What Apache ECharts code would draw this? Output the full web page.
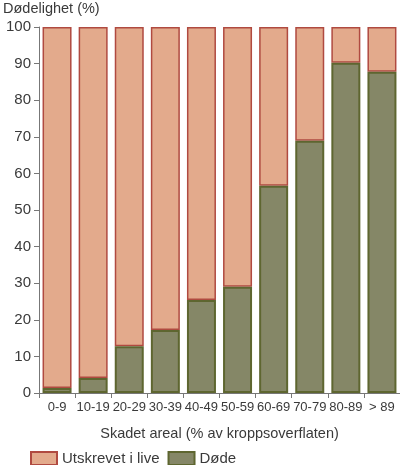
<!DOCTYPE html>
<html>
<head>
<meta charset="utf-8">
<script src="https://cdn.jsdelivr.net/npm/echarts@6/dist/echarts.min.js"></script>
<style>
  html, body { margin: 0; padding: 0; background: #fff; }
  #c1 { width: 400px; height: 465px; }
</style>
</head>
<body>
<div id="c1"></div>
<script>
// kategorier (skadet areal)
var categories = ["0-9", "10-19", "20-29", "30-39", "40-49", "50-59", "60-69", "70-79", "80-89", "> 89"];
// døde (%)
var dode = [1.4, 4.1, 12.8, 17.2, 25.4, 29.0, 56.6, 68.9, 90.2, 87.8];
// utskrevet i live (%)
var live = [98.6, 95.9, 87.2, 82.8, 74.6, 71.0, 43.4, 31.1, 9.8, 12.2];
var yTicks = [0, 10, 20, 30, 40, 50, 60, 70, 80, 90, 100];

var font = "Liberation Sans";
var txt = "#3a3a3a";

var chart = echarts.init(document.getElementById("c1"));
chart.setOption({
    animation: false,
    textStyle: { fontFamily: font },
    grid: { left: 33, right: 0, top: 27, bottom: 72, containLabel: false },
    legend: {
        left: 30, top: 451, padding: 0,
        itemWidth: 26, itemHeight: 13, itemGap: 8,
        icon: "rect",
        textStyle: { fontSize: 15, color: txt, fontFamily: font },
        data: ["Utskrevet i live", "Døde"]
    },
    xAxis: {
        type: "category",
        data: categories,
        name: "Skadet areal (% av kroppsoverflaten)",
        nameLocation: "middle",
        nameGap: 33,
        nameTextStyle: { fontSize: 14.5, color: txt, fontFamily: font },
        axisLine: { lineStyle: { color: "#777", width: 1 } },
        axisTick: { show: true, length: 5, lineStyle: { color: "#777" } },
        axisLabel: { fontSize: 13, color: txt, margin: 8, interval: 0, fontFamily: font, letterSpacing: -0.5 }
    },
    yAxis: {
        type: "value",
        min: yTicks[0], max: yTicks[yTicks.length - 1], interval: 10,
        name: "Dødelighet (%)",
        nameLocation: "end",
        nameGap: 11,
        nameTextStyle: { fontSize: 14.5, color: txt, fontFamily: font, align: "left", padding: [0, 0, 0, -36] },
        splitLine: { show: false },
        axisLine: { show: true, lineStyle: { color: "#777", width: 1 } },
        axisTick: { show: true, length: 5, lineStyle: { color: "#777" } },
        axisLabel: { fontSize: 15, color: txt, margin: 8, fontFamily: font }
    },
    series: [
        {
            name: "Døde",
            type: "bar",
            stack: "a",
            z: 3,
            barWidth: 29,
            data: dode,
            itemStyle: { color: "#858767", borderColor: "#5e6630", borderWidth: 2 }
        },
        {
            name: "Utskrevet i live",
            type: "bar",
            stack: "a",
            z: 2,
            barWidth: 29,
            data: live,
            itemStyle: { color: "#e3aa8c", borderColor: "#b04a40", borderWidth: 1.5 }
        }
    ]
});
</script>
</body>
</html>
